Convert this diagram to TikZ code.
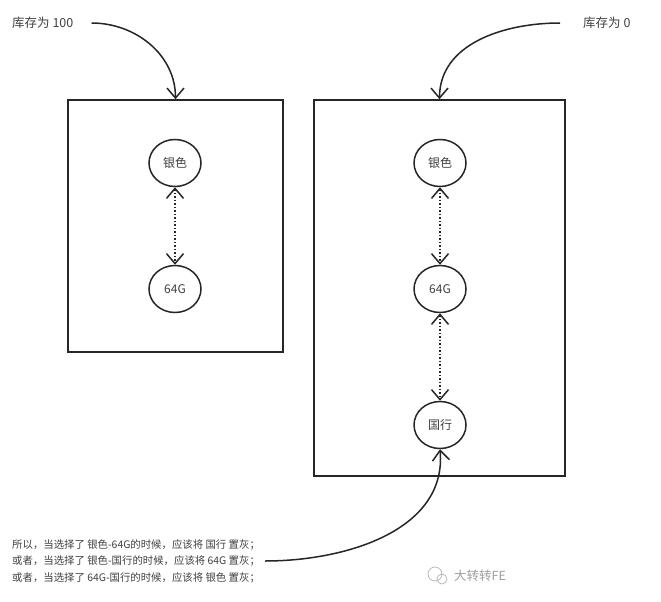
\documentclass[tikz,border=0pt]{standalone}
\usepackage{fontspec}
\setmainfont{Noto Sans CJK SC}
\usetikzlibrary{positioning, arrows.meta, shapes.geometric}

\begin{document}
\begin{tikzpicture}[x=1pt, y=-1pt,
    panel/.style={draw=black!85, line width=1.6pt, inner sep=0pt},
    spec/.style={ellipse, draw=black!85, line width=1.5pt, minimum width=52, minimum height=47, inner sep=0pt, text=black!75, font=\fontsize{12}{14}\selectfont},
    label/.style={text=black!75, inner sep=0pt, font=\fontsize{10.4}{16.5}\selectfont},
    curvearrow/.style={draw=black!85, line width=1.5pt, -{Straight Barb[length=10pt, width=17pt]}},
    linkarrow/.style={draw=black!85, line width=1.5pt, dotted, {Straight Barb[length=10pt, width=17pt]}-{Straight Barb[length=10pt, width=17pt]}}]
    \useasboundingbox[fill=white] (0, 0) rectangle (661, 602);

    % two stock panels
    \node[panel, minimum width=215, minimum height=252] (boxL) at (175.5, 226) {};
    \node[panel, minimum width=251, minimum height=376] (boxR) at (439.5, 288) {};

    \node[spec] (silverL) at (175, 163) {银色};
    \node[spec] (capL) at (175, 289) {64G};
    \node[spec] (silverR) at (440, 163) {银色};
    \node[spec] (capR) at (440, 289) {64G};
    \node[spec] (regionR) at (440, 425) {国行};

    \draw[linkarrow] (silverL) -- (capL);
    \draw[linkarrow] (silverR) -- (capR);
    \draw[linkarrow] (capR) -- (regionR);

    % notes
    \node[label, anchor=west, font=\fontsize{12.5}{15}\selectfont] (lbl100) at (12, 23) {库存为 100};
    \node[label, anchor=west, font=\fontsize{12.5}{15}\selectfont] (lbl0) at (583, 23) {库存为 0};
    \node[label, anchor=west, align=left] (summary) at (12, 561) {所以，当选择了 银色-64G的时候，应该将 国行 置灰；\\或者，当选择了 银色-国行的时候，应该将 64G 置灰；\\或者，当选择了 64G-国行的时候，应该将 银色 置灰；};

    \coordinate[right=18pt of lbl100] (from100);
    \coordinate[left=23pt of lbl0] (from0);
    \coordinate[right=5pt of summary] (fromsum);

    \draw[curvearrow] (from100) to[out=0, in=90] (boxL.north);
    \draw[curvearrow] (from0) to[out=180, in=90] (boxR.north);
    \draw[curvearrow] (fromsum) to[out=0, in=-85] (regionR.south);

    % watermark
    \draw[gray!55, line width=0.8pt] (435, 574) circle (7) (442, 579) circle (5);
    \node[text=gray!75, inner sep=0pt, anchor=west, font=\fontsize{12.5}{14}\selectfont] (wmark) at (454, 576) {大转转FE};
\end{tikzpicture}
\end{document}
